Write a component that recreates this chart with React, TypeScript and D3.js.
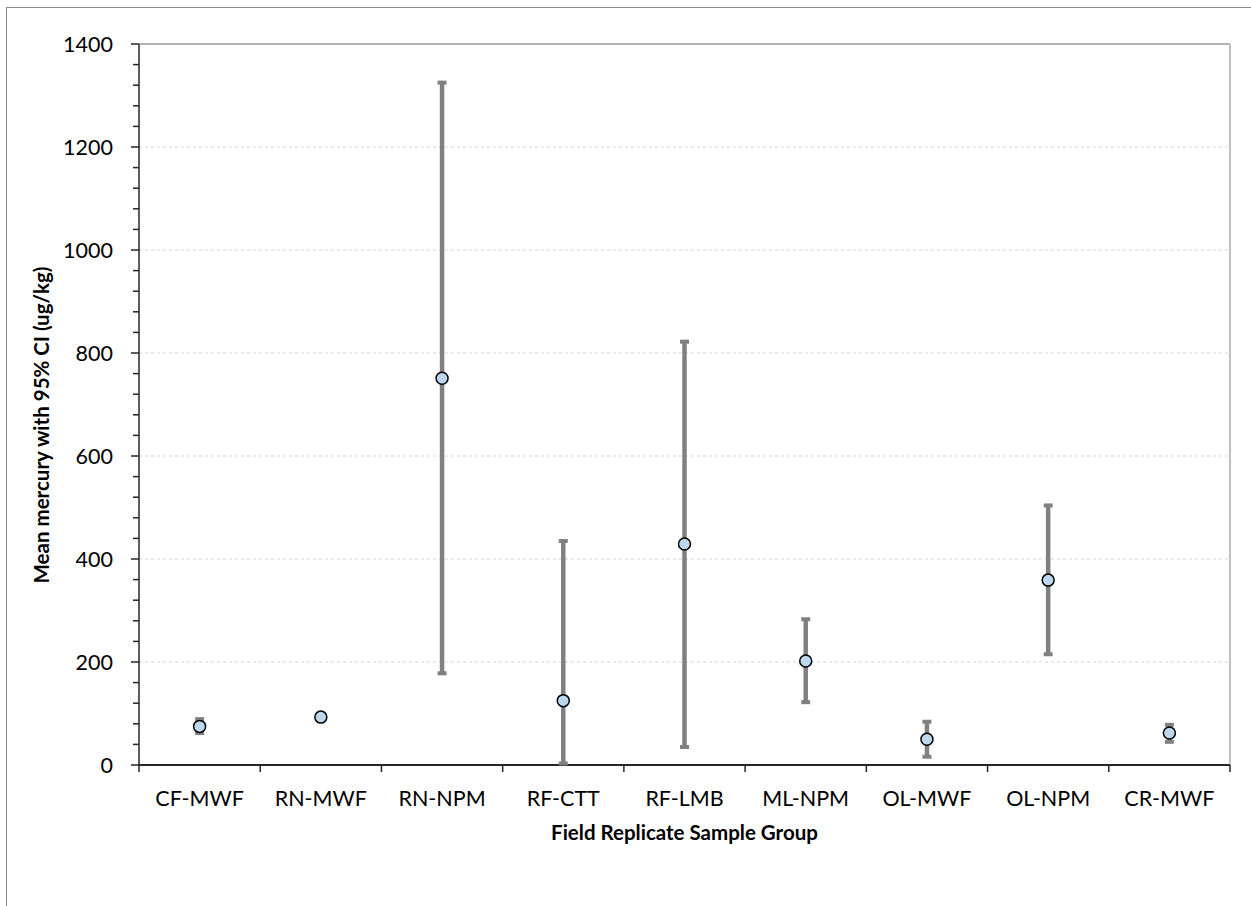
import React from 'react';
import * as d3 from 'd3';

const groups = ['CF-MWF', 'RN-MWF', 'RN-NPM', 'RF-CTT', 'RF-LMB', 'ML-NPM', 'OL-MWF', 'OL-NPM', 'CR-MWF'];
const means = [75, 93, 751, 125, 429, 202, 50, 359, 62];
const lower = [62, 88, 178, 3, 35, 122, 16, 215, 45];
const upper = [89, 98, 1325, 435, 822, 283, 84, 504, 78];
const yTicks = [0, 200, 400, 600, 800, 1000, 1200, 1400];

const W = 1251;
const H = 906;
const margin = { left: 139, right: 21, top: 44, bottom: 141 };
const font = 'Lato, "Open Sans", sans-serif';

export default function App() {
  const x = d3
    .scaleBand()
    .domain(groups)
    .range([margin.left, W - margin.right]);
  const y = d3
    .scaleLinear()
    .domain([0, 1400])
    .range([H - margin.bottom, margin.top]);

  const minorTicks = d3.range(0, 1401, 40).filter((v) => v % 200 !== 0);
  const x0 = margin.left;
  const x1 = W - margin.right;
  const y0 = y(0);
  const yTop = y(1400);
  const cx = (g) => x(g) + x.bandwidth() / 2;

  return (
    <svg
      width={W}
      height={H}
      style={{ position: 'absolute', left: 0, top: 0, background: '#fff' }}
      fontFamily={font}
    >
      <rect x={6.5} y={7.5} width={W + 20} height={H + 20} fill="#fff" stroke="#8c8c8c" strokeWidth={1} />

      {/* gridlines */}
      {yTicks
        .filter((t) => t > 0 && t < 1400)
        .map((t) => (
          <line key={t} x1={x0} x2={x1} y1={y(t)} y2={y(t)} stroke="#d4d4d4" strokeWidth={1} strokeDasharray="3,3" />
        ))}

      {/* plot area border top/right */}
      <line x1={x0} x2={x1} y1={yTop} y2={yTop} stroke="#9a9a9a" strokeWidth={1.5} />
      <line x1={x1} x2={x1} y1={yTop} y2={y0} stroke="#ababab" strokeWidth={1.5} />

      {/* y axis */}
      <line x1={x0} x2={x0} y1={yTop} y2={y0} stroke="#262626" strokeWidth={1.5} />
      {yTicks.map((t) => (
        <g key={t}>
          <line x1={x0 - 8} x2={x0} y1={y(t)} y2={y(t)} stroke="#262626" strokeWidth={1.5} />
          <text x={113} y={y(t)} dy="0.35em" textAnchor="end" fontSize={21.5} fill="#000">
            {t}
          </text>
        </g>
      ))}
      {minorTicks.map((t) => (
        <line key={'m' + t} x1={x0 - 6} x2={x0} y1={y(t)} y2={y(t)} stroke="#262626" strokeWidth={1.5} />
      ))}

      {/* x axis */}
      <line x1={x0} x2={x1} y1={y0} y2={y0} stroke="#262626" strokeWidth={2} />
      {groups.map((g) => (
        <line key={'xt' + g} x1={x(g)} x2={x(g)} y1={y0} y2={y0 + 7} stroke="#262626" strokeWidth={1.5} />
      ))}
      <line x1={x1} x2={x1} y1={y0} y2={y0 + 7} stroke="#262626" strokeWidth={1.5} />
      {groups.map((g) => (
        <text key={'xl' + g} x={cx(g)} y={806} textAnchor="middle" fontSize={21.5} fill="#000">
          {g}
        </text>
      ))}

      {/* error bars */}
      {groups.map((g, i) => (
        <g key={'eb' + g} stroke="#808080">
          <line x1={cx(g)} x2={cx(g)} y1={y(upper[i])} y2={y(lower[i])} strokeWidth={4.5} />
          <line x1={cx(g) - 4.5} x2={cx(g) + 4.5} y1={y(upper[i])} y2={y(upper[i])} strokeWidth={4} />
          <line x1={cx(g) - 4.5} x2={cx(g) + 4.5} y1={y(lower[i])} y2={y(lower[i])} strokeWidth={4} />
        </g>
      ))}

      {/* means */}
      {groups.map((g, i) => (
        <circle key={'pt' + g} cx={cx(g)} cy={y(means[i])} r={6} fill="#bdd7ee" stroke="#000" strokeWidth={1.5} />
      ))}

      {/* axis titles */}
      <text
        transform="translate(42, 425) rotate(-90)"
        textAnchor="middle"
        dy="0.35em"
        fontSize={20.5}
        fontWeight="bold"
        fill="#000"
      >
        Mean mercury with 95% CI (ug/kg)
      </text>
      <text x={(x0 + x1) / 2} y={840} textAnchor="middle" fontSize={20.5} fontWeight="bold" fill="#000">
        Field Replicate Sample Group
      </text>
    </svg>
  );
}
